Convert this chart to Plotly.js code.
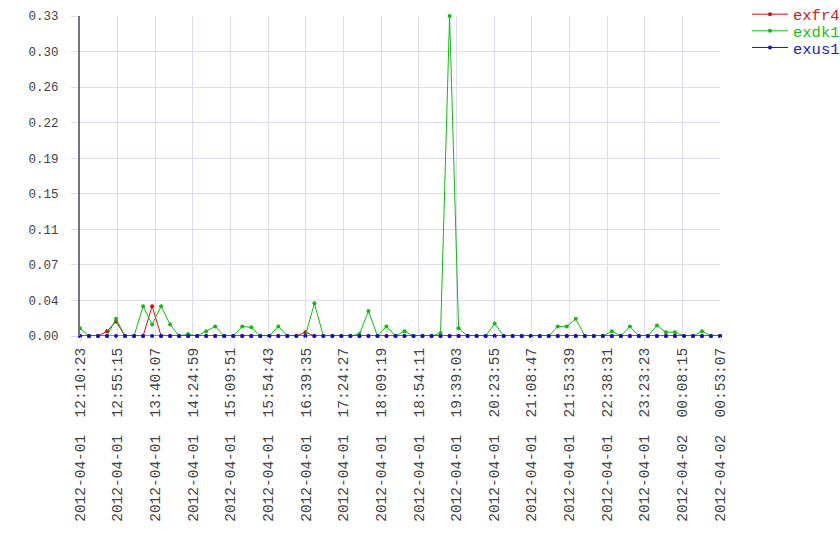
<!DOCTYPE html>
<html>
<head>
<meta charset="utf-8">
<script src="https://cdn.plot.ly/plotly-3.0.1.min.js"></script>
<style>
html,body{margin:0;padding:0;background:#fff;}
#chart{width:840px;height:560px;}
</style>
</head>
<body>
<div id="chart"></div>
<script>
const times = [
"2012-04-01 12:10:23","2012-04-01 12:21:08","2012-04-01 12:31:52","2012-04-01 12:42:37",
"2012-04-01 12:53:21","2012-04-01 13:04:06","2012-04-01 13:14:50","2012-04-01 13:25:35",
"2012-04-01 13:36:20","2012-04-01 13:47:04","2012-04-01 13:57:49","2012-04-01 14:08:33",
"2012-04-01 14:19:18","2012-04-01 14:30:02","2012-04-01 14:40:47","2012-04-01 14:51:31",
"2012-04-01 15:02:16","2012-04-01 15:13:01","2012-04-01 15:23:45","2012-04-01 15:34:30",
"2012-04-01 15:45:14","2012-04-01 15:55:59","2012-04-01 16:06:43","2012-04-01 16:17:28",
"2012-04-01 16:28:13","2012-04-01 16:38:57","2012-04-01 16:49:42","2012-04-01 17:00:26",
"2012-04-01 17:11:11","2012-04-01 17:21:55","2012-04-01 17:32:40","2012-04-01 17:43:24",
"2012-04-01 17:54:09","2012-04-01 18:04:54","2012-04-01 18:15:38","2012-04-01 18:26:23",
"2012-04-01 18:37:07","2012-04-01 18:47:52","2012-04-01 18:58:36","2012-04-01 19:09:21",
"2012-04-01 19:20:06","2012-04-01 19:30:50","2012-04-01 19:41:35","2012-04-01 19:52:19",
"2012-04-01 20:03:04","2012-04-01 20:13:48","2012-04-01 20:24:33","2012-04-01 20:35:17",
"2012-04-01 20:46:02","2012-04-01 20:56:47","2012-04-01 21:07:31","2012-04-01 21:18:16",
"2012-04-01 21:29:00","2012-04-01 21:39:45","2012-04-01 21:50:29","2012-04-01 22:01:14",
"2012-04-01 22:11:59","2012-04-01 22:22:43","2012-04-01 22:33:28","2012-04-01 22:44:12",
"2012-04-01 22:54:57","2012-04-01 23:05:41","2012-04-01 23:16:26","2012-04-01 23:27:10",
"2012-04-01 23:37:55","2012-04-01 23:48:40","2012-04-01 23:59:24","2012-04-02 00:10:09",
"2012-04-02 00:20:53","2012-04-02 00:31:38","2012-04-02 00:42:22","2012-04-02 00:53:07"
];

const exfr4 = [
0,0,0,0.005,0.015,0,0,0,0.031,0,0,0,
0,0,0,0,0,0,0,0,0,0,0,0,
0,0.004,0,0,0,0,0,0,0,0,0,0,
0,0,0,0,0,0,0,0,0,0,0,0,
0,0,0,0,0,0,0,0,0,0,0,0,
0,0,0,0,0,0,0,0,0,0,0,0
];

const exdk1 = [
0.008,0,0,0,0.018,0,0,0.031,0.012,0.031,0.012,0,
0.002,0,0.005,0.010,0,0,0.010,0.009,0,0,0.010,0,
0,0,0.034,0,0,0,0,0.002,0.026,0,0.010,0,
0.005,0,0,0,0.003,0.3333,0.008,0,0,0,0.013,0,
0,0,0,0,0,0.010,0.010,0.018,0,0,0,0.005,
0,0.010,0,0,0.011,0.004,0.004,0,0,0.005,0,0
];

const exus1 = [
0,0,0,0,0,0,0,0,0,0,0,0,
0,0,0,0,0,0,0,0,0,0,0,0,
0,0,0,0,0,0,0,0,0,0,0,0,
0,0,0,0,0,0,0,0,0,0,0,0,
0,0,0,0,0,0,0,0,0,0,0,0,
0,0,0,0,0,0,0,0,0,0,0,0
];

const seriesNames = ["exfr4","exdk1","exus1"];

const tickTimes = [
"2012-04-01 12:10:23","2012-04-01 12:55:15","2012-04-01 13:40:07","2012-04-01 14:24:59",
"2012-04-01 15:09:51","2012-04-01 15:54:43","2012-04-01 16:39:35","2012-04-01 17:24:27",
"2012-04-01 18:09:19","2012-04-01 18:54:11","2012-04-01 19:39:03","2012-04-01 20:23:55",
"2012-04-01 21:08:47","2012-04-01 21:53:39","2012-04-01 22:38:31","2012-04-01 23:23:23",
"2012-04-02 00:08:15","2012-04-02 00:53:07"
];
const tickLabels = tickTimes.map(t => t.replace(" ", "\u00a0\u00a0"));

const yMax = 0.3333;

const FONT = "Liberation Mono, DejaVu Sans Mono, monospace";
const colors = ["#cc1111", "#11bb11", "#1111cc"];
const textColors = ["#cc2222", "#22bb22", "#2222bb"];
const ys = [exfr4, exdk1, exus1];
const legendIds = ["legend", "legend2", "legend3"];
const legendY = [1.0575, 1.0055, 0.9535];

const traces = ys.map((y, k) => ({
  type: "scatter",
  mode: "lines+markers",
  name: seriesNames[k],
  legend: legendIds[k],
  x: times,
  y: y,
  line: {color: colors[k], width: 1},
  marker: {color: colors[k], size: 4},
  cliponaxis: false
}));

const layout = {
  width: 840, height: 560,
  margin: {l: 80, r: 120, t: 16, b: 224, pad: 0, autoexpand: false},
  paper_bgcolor: "#fff",
  plot_bgcolor: "#fff",
  showlegend: true,
  xaxis: {
    type: "date",
    range: [times[0], times[times.length - 1]],
    tickmode: "array",
    tickvals: tickTimes,
    ticktext: tickLabels,
    tickangle: -90,
    tickfont: {family: FONT, size: 14.5, color: "#444"},
    ticks: "outside", ticklen: 5, tickcolor: "#dcdcf4",
    showgrid: true, gridcolor: "#dcdcf4", gridwidth: 1,
    zeroline: false, showline: false
  },
  yaxis: {
    range: [0, yMax],
    tickmode: "linear", tick0: 0, dtick: yMax / 9,
    tickformat: ".2f",
    tickfont: {family: FONT, size: 12.5, color: "#444"},
    ticks: "outside", ticklen: 7, tickcolor: "#dcdcf4",
    ticklabelstandoff: 10,
    showgrid: true, gridcolor: "#dcdcf4", gridwidth: 1,
    zeroline: false,
    showline: true, linecolor: "#737384", linewidth: 2
  }
};

legendIds.forEach((id, k) => {
  layout[id] = {
    x: 1.0422, xanchor: "left", y: legendY[k], yanchor: "top",
    font: {family: FONT, size: 15.5, color: textColors[k]},
    bgcolor: "rgba(0,0,0,0)",
    itemwidth: 36
  };
});

Plotly.newPlot("chart", traces, layout, {displayModeBar: false, staticPlot: true});
</script>
</body>
</html>
